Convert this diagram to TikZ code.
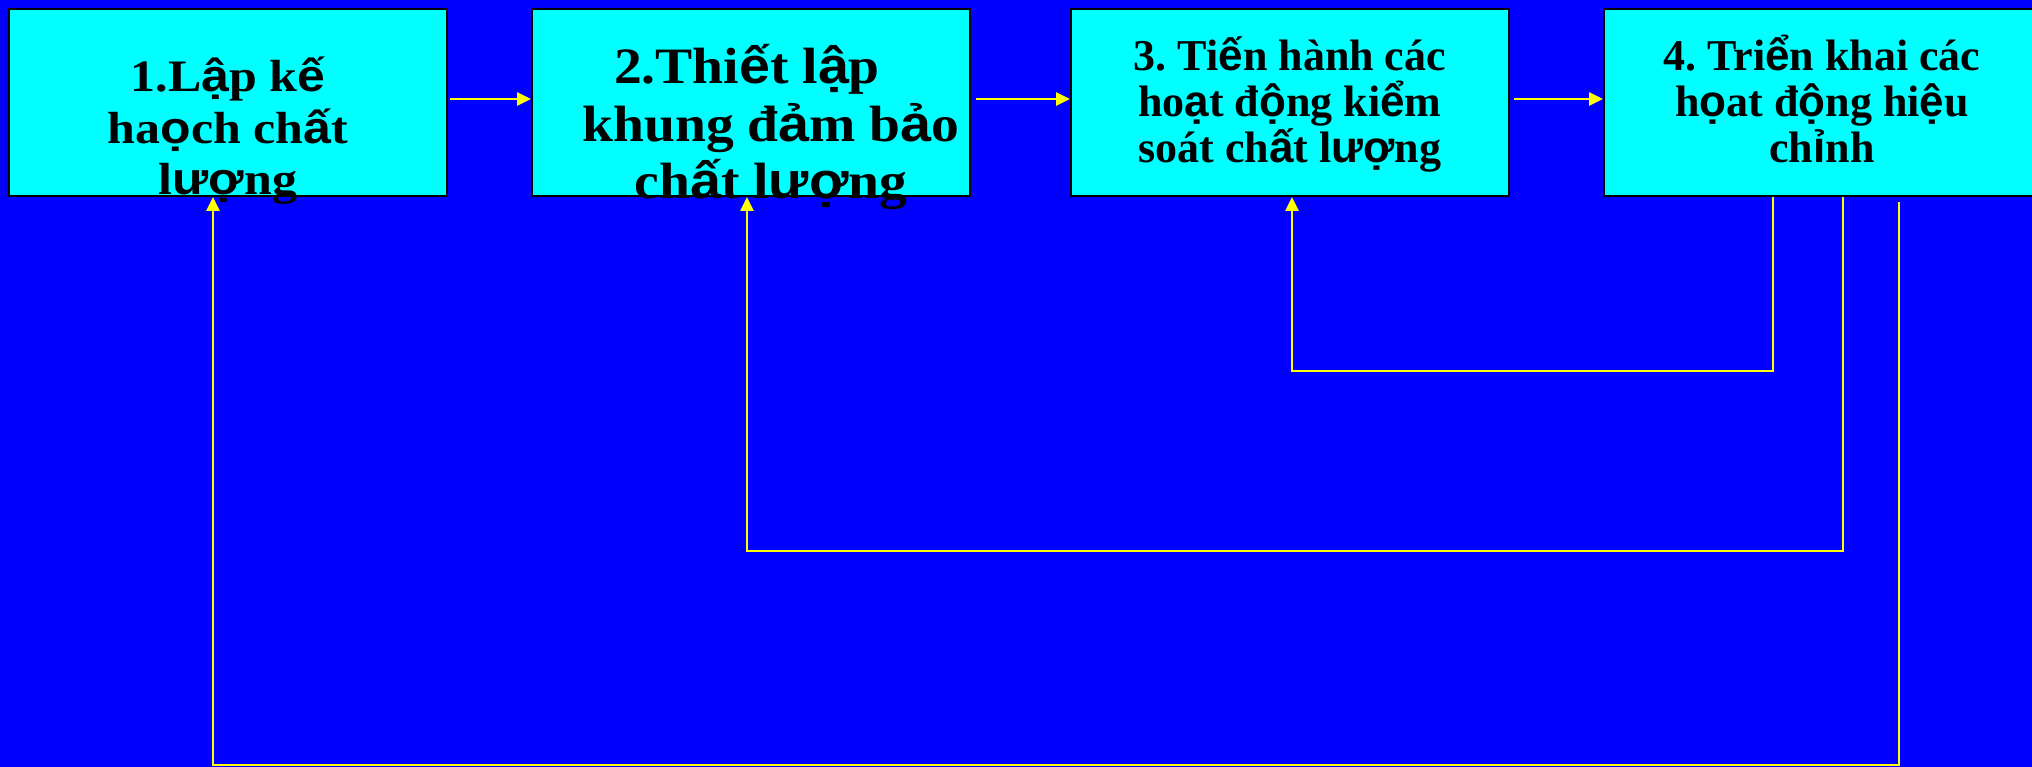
\documentclass[tikz,border=0pt]{standalone}
\usepackage{fontspec}
\usepackage{graphicx}
\setmainfont{Liberation Serif}
\newfontfamily\vnsans{Liberation Sans}
\usetikzlibrary{arrows.meta}
\frenchspacing
% Vietnamese letters with extra diacritics are set in the sans face
\newcommand\sv[1]{{\vnsans #1}}
\definecolor{bgblue}{RGB}{0,0,255}
\definecolor{stagefill}{RGB}{0,255,255}
\definecolor{flowyellow}{RGB}{255,255,0}

\begin{document}
\begin{tikzpicture}[x=1pt,y=-1pt,
  stage/.style={draw=black,line width=2pt,fill=stagefill,
    minimum width=438pt,minimum height=187pt,inner sep=0pt},
  lbl/.style={anchor=base,inner sep=0pt,text=black},
  bigtxt/.style={lbl,font=\fontsize{51}{51}\selectfont\bfseries},
  midtxt/.style={lbl,font=\fontsize{45}{45}\selectfont\bfseries},
  smalltxt/.style={lbl,font=\fontsize{44}{44}\selectfont\bfseries},
  flow/.style={draw=flowyellow,line width=2.6pt,
    -{Triangle[length=14pt,width=13pt]}},
  back/.style={flow},
]
\useasboundingbox (0,0) rectangle (2032,767);
\fill[bgblue] (0,0) rectangle (2032,767);

% the four stages
\node[stage] (b1) at (228,102.5) {};
\node[stage] (b2) at (751,102.5) {};
\node[stage] (b3) at (1290,102.5) {};
\node[stage] (b4) at (1823,102.5) {};

% forward flow
\draw[flow,shorten <=2pt] ([yshift=3.5pt]b1.east) -- ([yshift=3.5pt]b2.west);
\draw[flow,shorten <=5pt] ([yshift=3.5pt]b2.east) -- ([yshift=3.5pt]b3.west);
\draw[flow,shorten <=4pt] ([yshift=3.5pt]b3.east) -- ([yshift=3.5pt]b4.west);

% feedback loops from stage 4
\coordinate (k3) at (1773,371);
\coordinate (k2) at (1843,551);
\coordinate (k1s) at (1899,202);
\coordinate (k1) at (1899,765);
\draw[back] (b4.south -| k3) -- (k3) -| ([xshift=2pt]b3.south);
\draw[back] (b4.south -| k2) -- (k2) -| ([xshift=-4pt]b2.south);
\draw[back] (k1s) -- (k1) -| ([xshift=-15pt]b1.south);

% stage 1 text
\node[midtxt] (t1a) at (228,92) {\scalebox{1.11}[1]{1.L\sv{ậ}p k\sv{ế}}};
\node[midtxt] (t1b) at (228,144) {\scalebox{1.11}[1]{ha\sv{ọ}ch ch\sv{ấ}t}};
\node[midtxt] (t1c) at (228,195) {\scalebox{1.11}[1]{l\sv{ượ}ng}};

% stage 2 text
\node[bigtxt] (t2a) at (747,84) {\scalebox{1.09}[1]{2.Thi\sv{ế}t l\sv{ậ}p}};
\node[bigtxt] (t2b) at (771,142) {\scalebox{1.09}[1]{khung đ\sv{ả}m b\sv{ả}o}};
\node[bigtxt] (t2c) at (771,199) {\scalebox{1.09}[1]{ch\sv{ấ}t l\sv{ượ}ng}};

% stage 3 text
\node[smalltxt] (t3a) at (1290,71) {3. Ti\sv{ế}n hành các};
\node[smalltxt] (t3b) at (1290,117) {ho\sv{ạ}t đ\sv{ộ}ng ki\sv{ể}m};
\node[smalltxt] (t3c) at (1290,163) {soát ch\sv{ấ}t l\sv{ượ}ng};

% stage 4 text
\node[smalltxt] (t4a) at (1822,71) {4. Tri\sv{ể}n khai các};
\node[smalltxt] (t4b) at (1822,117) {h\sv{ọ}at đ\sv{ộ}ng hi\sv{ệ}u};
\node[smalltxt] (t4c) at (1822,163) {ch\sv{ỉ}nh};
\end{tikzpicture}
\end{document}
